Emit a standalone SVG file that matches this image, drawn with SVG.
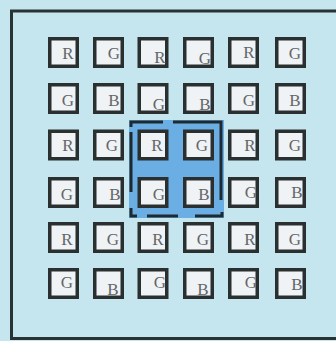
<svg xmlns="http://www.w3.org/2000/svg" width="336" height="341" viewBox="0 0 336 341">
<style>
.cell rect{fill:#eff3f6;stroke:#2a2f30;stroke-width:3.5}
.cell text{font-family:"Liberation Serif","Times New Roman",serif;font-size:17px;fill:#666;text-anchor:middle}
.dash{stroke:#1e2a30;stroke-width:3;fill:none;stroke-linecap:butt}
</style>
<rect x="0" y="0" width="336" height="341" fill="#c5e5ef"/>
<path d="M340 11 H11.5 V338.5 H340" fill="none" stroke="#283434" stroke-width="3"/>
<g id="highlight">
<rect x="129" y="120" width="95" height="98" fill="#6aaee3"/>
<g class="dash">
<path d="M131 127 V122 H163"/>
<path d="M173 122 H221 V200"/>
<path d="M131 132 V192"/>
<path d="M131 208 V216 H137"/>
<path d="M147 216 H178"/>
<path d="M195 216 H222 V212"/>
</g>
</g>
<g id="r1">
<g class="cell" id="c11"><rect x="49.75" y="38.75" width="27.5" height="27.5"/><text x="68" y="59">R</text></g>
<g class="cell" id="c12"><rect x="94.75" y="38.75" width="27.5" height="27.5"/><text x="114" y="59">G</text></g>
<g class="cell" id="c13"><rect x="139.25" y="38.75" width="27.5" height="27.5"/><text x="160" y="63">R</text></g>
<g class="cell" id="c14"><rect x="184.75" y="38.75" width="27.5" height="27.5"/><text x="205" y="64">G</text></g>
<g class="cell" id="c15"><rect x="229.75" y="38.75" width="27.5" height="27.5"/><text x="249" y="58">R</text></g>
<g class="cell" id="c16"><rect x="276.75" y="38.75" width="27.5" height="27.5"/><text x="295" y="59">G</text></g>
</g>
<g id="r2">
<g class="cell" id="c21"><rect x="49.75" y="84.75" width="27.5" height="27.5"/><text x="68" y="106">G</text></g>
<g class="cell" id="c22"><rect x="94.75" y="84.75" width="27.5" height="27.5"/><text x="114" y="106">B</text></g>
<g class="cell" id="c23"><rect x="139.25" y="84.75" width="27.5" height="27.5"/><text x="159" y="110">G</text></g>
<g class="cell" id="c24"><rect x="184.75" y="84.75" width="27.5" height="27.5"/><text x="205" y="110">B</text></g>
<g class="cell" id="c25"><rect x="229.75" y="84.75" width="27.5" height="27.5"/><text x="249" y="106">G</text></g>
<g class="cell" id="c26"><rect x="276.75" y="84.75" width="27.5" height="27.5"/><text x="295" y="106">B</text></g>
</g>
<g id="r3">
<g class="cell" id="c31"><rect x="49.75" y="131.25" width="27.5" height="27.5"/><text x="68" y="151">R</text></g>
<g class="cell" id="c32"><rect x="94.75" y="131.25" width="27.5" height="27.5"/><text x="112" y="151">G</text></g>
<g class="cell" id="c33"><rect x="139.25" y="131.25" width="27.5" height="27.5"/><text x="157" y="151">R</text></g>
<g class="cell" id="c34"><rect x="184.75" y="131.25" width="27.5" height="27.5"/><text x="202" y="151">G</text></g>
<g class="cell" id="c35"><rect x="229.75" y="131.25" width="27.5" height="27.5"/><text x="250" y="151">R</text></g>
<g class="cell" id="c36"><rect x="276.75" y="131.25" width="27.5" height="27.5"/><text x="295" y="151">G</text></g>
</g>
<g id="r4">
<g class="cell" id="c41"><rect x="49.75" y="178.75" width="27.5" height="27.5"/><text x="67" y="200">G</text></g>
<g class="cell" id="c42"><rect x="94.75" y="178.75" width="27.5" height="27.5"/><text x="115" y="200">B</text></g>
<g class="cell" id="c43"><rect x="139.25" y="178.75" width="27.5" height="27.5"/><text x="159" y="200">G</text></g>
<g class="cell" id="c44"><rect x="184.75" y="178.75" width="27.5" height="27.5"/><text x="204" y="200">B</text></g>
<g class="cell" id="c45"><rect x="229.75" y="178.75" width="27.5" height="27.5"/><text x="251" y="198">G</text></g>
<g class="cell" id="c46"><rect x="276.75" y="178.75" width="27.5" height="27.5"/><text x="297" y="198">B</text></g>
</g>
<g id="r5">
<g class="cell" id="c51"><rect x="49.75" y="223.75" width="27.5" height="27.5"/><text x="67" y="245">R</text></g>
<g class="cell" id="c52"><rect x="94.75" y="223.75" width="27.5" height="27.5"/><text x="113" y="245">G</text></g>
<g class="cell" id="c53"><rect x="139.25" y="223.75" width="27.5" height="27.5"/><text x="158" y="245">R</text></g>
<g class="cell" id="c54"><rect x="184.75" y="223.75" width="27.5" height="27.5"/><text x="203" y="245">G</text></g>
<g class="cell" id="c55"><rect x="229.75" y="223.75" width="27.5" height="27.5"/><text x="250" y="245">R</text></g>
<g class="cell" id="c56"><rect x="276.75" y="223.75" width="27.5" height="27.5"/><text x="295" y="245">G</text></g>
</g>
<g id="r6">
<g class="cell" id="c61"><rect x="49.75" y="269.75" width="27.5" height="27.5"/><text x="67" y="288">G</text></g>
<g class="cell" id="c62"><rect x="94.75" y="269.75" width="27.5" height="27.5"/><text x="113" y="295">B</text></g>
<g class="cell" id="c63"><rect x="139.25" y="269.75" width="27.5" height="27.5"/><text x="160" y="288">G</text></g>
<g class="cell" id="c64"><rect x="184.75" y="269.75" width="27.5" height="27.5"/><text x="203" y="295">B</text></g>
<g class="cell" id="c65"><rect x="229.75" y="269.75" width="27.5" height="27.5"/><text x="251" y="288">G</text></g>
<g class="cell" id="c66"><rect x="276.75" y="269.75" width="27.5" height="27.5"/><text x="297" y="290">B</text></g>
</g>
</svg>
